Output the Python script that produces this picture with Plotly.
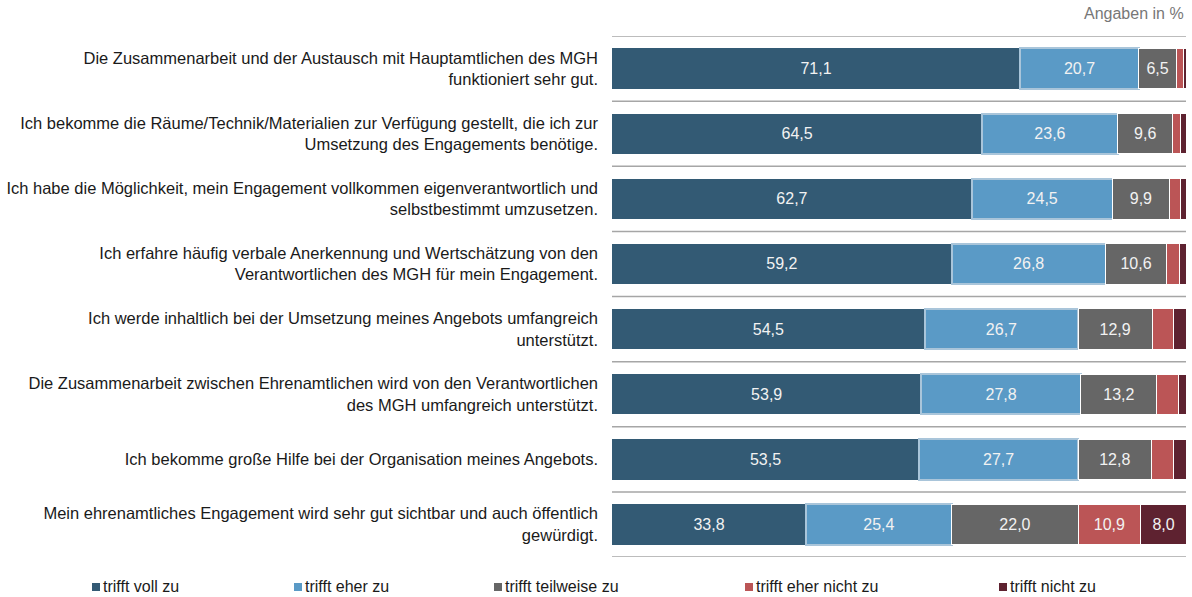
import plotly.graph_objects as go

categories = [
    "Die Zusammenarbeit und der Austausch mit Hauptamtlichen des MGH<br>funktioniert sehr gut.",
    "Ich bekomme die Räume/Technik/Materialien zur Verfügung gestellt, die ich zur<br>Umsetzung des Engagements benötige.",
    "Ich habe die Möglichkeit, mein Engagement vollkommen eigenverantwortlich und<br>selbstbestimmt umzusetzen.",
    "Ich erfahre häufig verbale Anerkennung und Wertschätzung von den<br>Verantwortlichen des MGH für mein Engagement.",
    "Ich werde inhaltlich bei der Umsetzung meines Angebots umfangreich<br>unterstützt.",
    "Die Zusammenarbeit zwischen Ehrenamtlichen wird von den Verantwortlichen<br>des MGH umfangreich unterstützt.",
    "Ich bekomme große Hilfe bei der Organisation meines Angebots.",
    "Mein ehrenamtliches Engagement wird sehr gut sichtbar und auch öffentlich<br>gewürdigt.",
]

series_names = ["trifft voll zu", "trifft eher zu", "trifft teilweise zu",
                "trifft eher nicht zu", "trifft nicht zu"]

voll_zu = [71.1, 64.5, 62.7, 59.2, 54.5, 53.9, 53.5, 33.8]
eher_zu = [20.7, 23.6, 24.5, 26.8, 26.7, 27.8, 27.7, 25.4]
teilweise = [6.5, 9.6, 9.9, 10.6, 12.9, 13.2, 12.8, 22.0]
eher_nicht = [1.2, 1.4, 2.0, 2.2, 3.7, 3.8, 3.9, 10.9]
nicht_zu = [0.5, 0.9, 0.9, 1.2, 2.2, 1.3, 2.1, 8.0]

series_values = [voll_zu, eher_zu, teilweise, eher_nicht, nicht_zu]
colors = ["#335a74", "#5a9ac6", "#666666", "#bb5556", "#5e2230"]
line_colors = ["#335a74", "#a9c5da", "#ffffff", "#ffffff", "#ffffff"]
line_widths = [0, 2, 1, 1, 1]

FONT = "Liberation Sans, Arial, sans-serif"

fig = go.Figure()
for name, vals, col, lc, lw in zip(series_names, series_values, colors, line_colors, line_widths):
    texts = [f"{v:.1f}".replace(".", ",") if v >= 5 else "" for v in vals]
    fig.add_trace(go.Bar(
        y=categories, x=vals, name=name, orientation="h",
        marker=dict(color=col, line=dict(color=lc, width=lw)),
        text=texts, textposition="inside", insidetextanchor="middle",
        textangle=0, constraintext="none",
        textfont=dict(color="#f2f2f2", size=16, family=FONT),
        width=0.62, showlegend=False, hoverinfo="skip",
    ))

shapes = []
for i in range(len(categories) + 1):
    shapes.append(dict(type="line", xref="x", yref="y", x0=0, x1=100,
                       y0=i - 0.5, y1=i - 0.5,
                       line=dict(color="#a6a6a6", width=1.5)))

# legend drawn as shapes + annotations
plot_left, plot_w = 612, 574
plot_top, plot_h = 36, 521
legend_px = [92, 294, 494, 745, 999]
leg_y_px = 586
annotations = []
for name, col, px in zip(series_names, colors, legend_px):
    x0 = (px - plot_left) / plot_w
    x1 = (px + 8 - plot_left) / plot_w
    y0 = (plot_top + plot_h - (leg_y_px - 3)) / plot_h
    y1 = (plot_top + plot_h - (leg_y_px + 5)) / plot_h
    shapes.append(dict(type="rect", xref="paper", yref="paper",
                       x0=x0, x1=x1, y0=y0, y1=y1,
                       fillcolor=col, line=dict(width=0)))
    annotations.append(dict(xref="paper", yref="paper",
                            x=(px + 9 - plot_left) / plot_w,
                            y=(plot_top + plot_h - leg_y_px) / plot_h,
                            xanchor="left", yanchor="middle", showarrow=False,
                            text=name, font=dict(size=16, color="#1a1a1a", family=FONT)))

annotations.append(dict(xref="paper", yref="paper", x=1.0, y=(plot_top + plot_h - 13) / plot_h,
                        xanchor="right", yanchor="middle", showarrow=False,
                        text="Angaben in %", font=dict(size=16, color="#777777", family=FONT)))

fig.update_layout(
    barmode="stack",
    width=1192, height=597,
    margin=dict(l=612, r=6, t=36, b=40),
    plot_bgcolor="white", paper_bgcolor="white",
    font=dict(family=FONT, size=16, color="#1a1a1a"),
    separators=", ",
    xaxis=dict(range=[0, 100], visible=False, fixedrange=True),
    yaxis=dict(categoryorder="array", categoryarray=categories,
               range=[7.5, -0.5], showgrid=False, zeroline=False,
               showline=False, ticks="", ticklabelstandoff=13, fixedrange=True,
               tickfont=dict(size=16.5, color="#1a1a1a", family=FONT)),
    shapes=shapes, annotations=annotations,
    bargap=0.38,
)

fig.write_html("out.html", config={"displayModeBar": False, "staticPlot": True},
               post_script="document.body.style.margin='0';document.body.style.overflow='hidden';")
